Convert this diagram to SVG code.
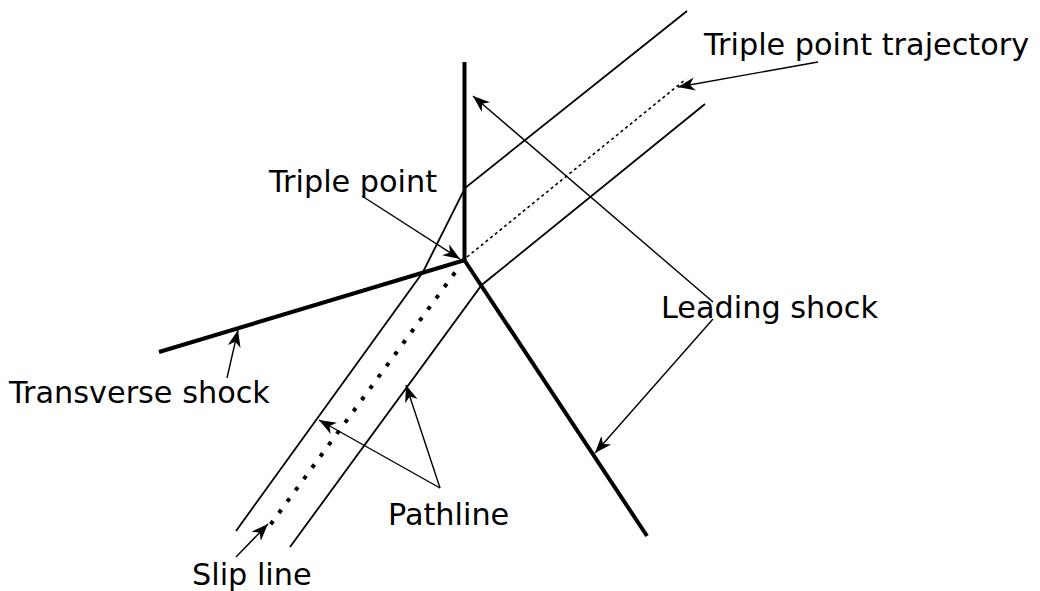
<svg xmlns="http://www.w3.org/2000/svg" width="1040" height="591" viewBox="0 0 1040 591">
<style>
.thick{stroke:#000;stroke-width:4;fill:none;stroke-linecap:butt}
.thin{stroke:#000;stroke-width:1.8;fill:none}
.arr{stroke:#000;stroke-width:1.4;fill:none;marker-end:url(#ah)}
.lbl{font-family:"DejaVu Sans",sans-serif;font-size:30.3px;fill:#000}
</style>
<defs>
<marker id="ah" markerUnits="userSpaceOnUse" markerWidth="22" markerHeight="18" viewBox="-18 -9 22 18" refX="0" refY="0" orient="auto">
<path d="M0,0 L-17,-6.5 L-12,0 L-17,6.5 Z" fill="#000"/>
</marker>
</defs>
<g id="shocks">
<line class="thick" x1="464.5" y1="62" x2="464.5" y2="261"/>
<line class="thick" x1="159" y1="352" x2="465" y2="260"/>
<line class="thick" x1="463" y1="258" x2="647" y2="536"/>
</g>
<g id="pathlines">
<polyline class="thin" points="236,531 423,272 465,188 687,11"/>
<polyline class="thin" points="290,547 481.7,285 705,104"/>
</g>
<g id="trajectory">
<line stroke="#000" stroke-width="1.6" stroke-dasharray="3 3" x1="467" y1="257" x2="686" y2="79"/>
</g>
<g id="slipline">
<line stroke="#000" stroke-width="4" stroke-dasharray="4 10" x1="455" y1="272.5" x2="270.5" y2="524.5"/>
</g>
<g id="connectors">
<line class="arr" x1="362" y1="196" x2="460" y2="259"/>
<line class="arr" x1="818" y1="62" x2="678" y2="87"/>
<line class="arr" x1="713" y1="302" x2="473" y2="96"/>
<line class="arr" x1="713" y1="319" x2="595" y2="453"/>
<line class="arr" x1="227" y1="378" x2="238" y2="330"/>
<line class="arr" x1="440" y1="488" x2="319" y2="420"/>
<line class="arr" x1="440" y1="488" x2="406" y2="385"/>
<line class="arr" x1="236" y1="557" x2="268" y2="524"/>
</g>
<g id="labels">
<text class="lbl" x="269" y="192">Triple point</text>
<text class="lbl" x="704" y="55">Triple point trajectory</text>
<text class="lbl" x="661" y="318">Leading shock</text>
<text class="lbl" x="9" y="403">Transverse shock</text>
<text class="lbl" x="388" y="525">Pathline</text>
<text class="lbl" x="192" y="585">Slip line</text>
</g>
</svg>
